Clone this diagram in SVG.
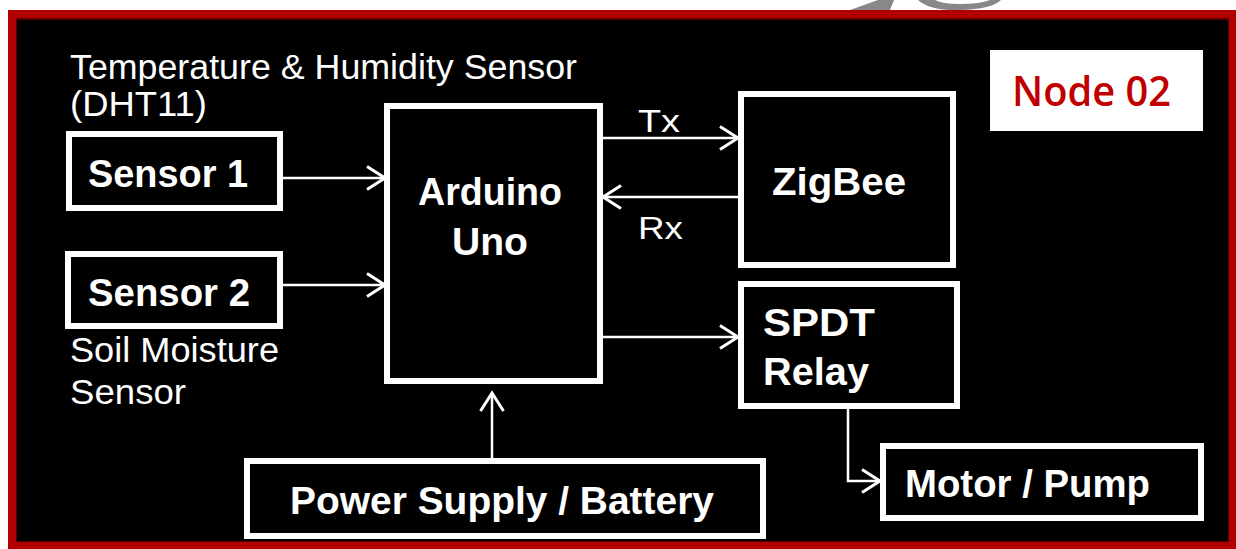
<svg xmlns="http://www.w3.org/2000/svg" width="1236" height="549" viewBox="0 0 1236 549">
<defs>
<style>
.box{fill:none;stroke:#fff;stroke-width:6}
.lbl{font-family:"Liberation Sans",Arial,sans-serif;font-weight:bold;font-size:38px;fill:#fff}
.txt{font-family:"Liberation Sans",Arial,sans-serif;font-size:35px;fill:#fff}
.sig{font-family:"Liberation Sans",Arial,sans-serif;font-size:31px;fill:#fff}
.con{fill:none;stroke:#fff;stroke-width:2.5}
</style>
<marker id="arr" markerUnits="userSpaceOnUse" markerWidth="24" markerHeight="30" refX="19" refY="13" orient="auto">
<path d="M1,1.5 L19,13 L1,24.5" fill="none" stroke="#fff" stroke-width="3"/>
</marker>
</defs>
<rect x="0" y="0" width="1236" height="549" fill="#fff"/>
<path d="M850,10 L878,0 L894,0 L890,10 Z" fill="#888"/>
<path d="M918,0 Q930,11 960,10 Q992,9 1001,0 L990,0 Q980,4 960,4 Q942,4 935,0 Z" fill="#888"/>
<rect x="8" y="10" width="1228" height="539" fill="#b00000"/>
<rect x="16" y="18" width="1213" height="524" fill="#5a0000"/>
<rect x="17" y="20" width="1211" height="521" fill="#000"/>

<g id="node02">
<rect x="990" y="50" width="213" height="81" fill="#fff"/>
<text x="1012" y="106" font-family="'Open Sans','Noto Sans',sans-serif" font-weight="600" font-size="42" fill="#c00000" textLength="159" lengthAdjust="spacingAndGlyphs">Node 02</text>
</g>

<g id="sensor1">
<rect class="box" x="69" y="134" width="211" height="74"/>
<text class="lbl" x="88" y="187" textLength="160" lengthAdjust="spacingAndGlyphs">Sensor 1</text>
<text class="txt" x="70" y="79" textLength="507" lengthAdjust="spacingAndGlyphs">Temperature &amp; Humidity Sensor</text>
<text class="txt" x="70" y="116" textLength="137" lengthAdjust="spacingAndGlyphs">(DHT11)</text>
</g>

<g id="sensor2">
<rect class="box" x="68" y="254" width="212" height="72"/>
<text class="lbl" x="88" y="306" textLength="162" lengthAdjust="spacingAndGlyphs">Sensor 2</text>
<text class="txt" x="70" y="362" textLength="209" lengthAdjust="spacingAndGlyphs">Soil Moisture</text>
<text class="txt" x="70" y="404" textLength="116" lengthAdjust="spacingAndGlyphs">Sensor</text>
</g>

<g id="arduino">
<rect class="box" x="387" y="106" width="213" height="275"/>
<text class="lbl" x="418" y="205" textLength="144" lengthAdjust="spacingAndGlyphs">Arduino</text>
<text class="lbl" x="452" y="255" textLength="76" lengthAdjust="spacingAndGlyphs">Uno</text>
</g>

<g id="zigbee">
<rect class="box" x="741" y="94" width="212" height="171"/>
<text class="lbl" x="772" y="195" textLength="134" lengthAdjust="spacingAndGlyphs">ZigBee</text>
</g>

<g id="relay">
<rect class="box" x="741" y="284" width="216" height="122"/>
<text class="lbl" x="763" y="336" textLength="112" lengthAdjust="spacingAndGlyphs">SPDT</text>
<text class="lbl" x="763" y="385" textLength="106" lengthAdjust="spacingAndGlyphs">Relay</text>
</g>

<g id="power">
<rect class="box" x="247" y="461" width="516" height="75"/>
<text class="lbl" x="290" y="514" textLength="424" lengthAdjust="spacingAndGlyphs">Power Supply / Battery</text>
</g>

<g id="motor">
<rect class="box" x="883" y="446" width="318" height="72"/>
<text class="lbl" x="905" y="497" textLength="245" lengthAdjust="spacingAndGlyphs">Motor / Pump</text>
</g>

<g id="connectors">
<line class="con" x1="283" y1="178" x2="385" y2="178" marker-end="url(#arr)"/>
<line class="con" x1="283" y1="285" x2="385" y2="285" marker-end="url(#arr)"/>
<line class="con" x1="603" y1="138" x2="738" y2="138" marker-end="url(#arr)"/>
<line class="con" x1="738" y1="197" x2="603" y2="197" marker-end="url(#arr)"/>
<line class="con" x1="603" y1="337" x2="738" y2="337" marker-end="url(#arr)"/>
<line class="con" x1="492" y1="458" x2="492" y2="393" marker-end="url(#arr)"/>
<path class="con" d="M848,409 V481 H880" marker-end="url(#arr)"/>
<text class="sig" x="638" y="132" textLength="42" lengthAdjust="spacingAndGlyphs">Tx</text>
<text class="sig" x="638" y="239" textLength="45" lengthAdjust="spacingAndGlyphs">Rx</text>
</g>
</svg>
